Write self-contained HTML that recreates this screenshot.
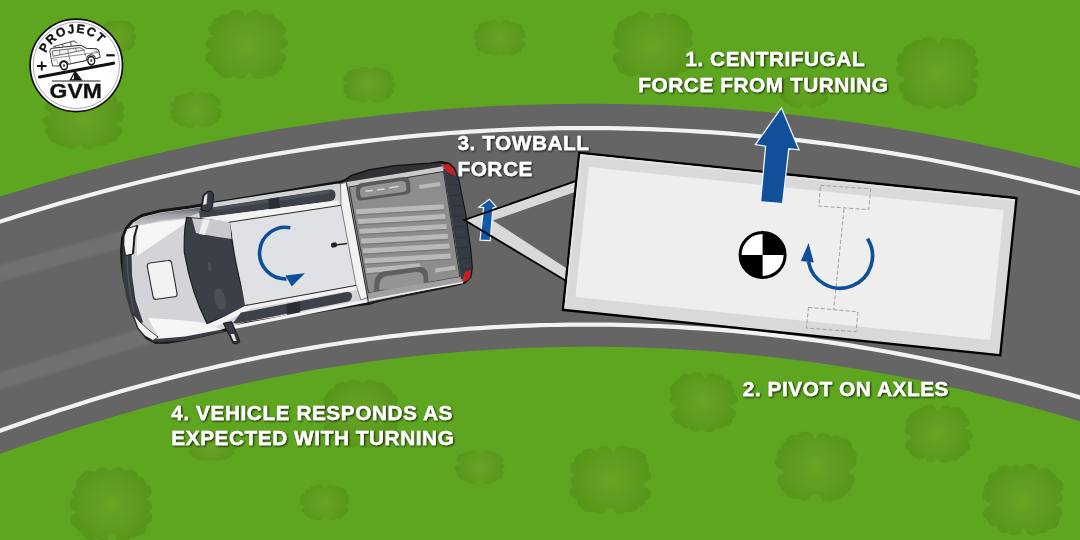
<!DOCTYPE html>
<html><head><meta charset="utf-8"><style>
html,body{margin:0;padding:0;background:#5ea61f;}
#c{position:relative;width:1080px;height:540px;overflow:hidden;}
svg{position:absolute;left:0;top:0;}
.t{font-family:"Liberation Sans",sans-serif;font-weight:bold;font-size:20.8px;letter-spacing:0.55px;fill:#fff;stroke:#fff;stroke-width:0.35px;}
</style></head><body><div id="c">
<svg width="1080" height="540" viewBox="0 0 1080 540">
<defs><radialGradient id="bg0" gradientUnits="userSpaceOnUse" cx="247" cy="45" r="42"><stop offset="0" stop-color="#68a524"/><stop offset="1" stop-color="#57951c"/></radialGradient><radialGradient id="bg1" gradientUnits="userSpaceOnUse" cx="196" cy="110" r="26"><stop offset="0" stop-color="#68a524"/><stop offset="1" stop-color="#57951c"/></radialGradient><radialGradient id="bg2" gradientUnits="userSpaceOnUse" cx="118" cy="36" r="18"><stop offset="0" stop-color="#68a524"/><stop offset="1" stop-color="#57951c"/></radialGradient><radialGradient id="bg3" gradientUnits="userSpaceOnUse" cx="83" cy="118" r="41"><stop offset="0" stop-color="#68a524"/><stop offset="1" stop-color="#57951c"/></radialGradient><radialGradient id="bg4" gradientUnits="userSpaceOnUse" cx="369" cy="85" r="26"><stop offset="0" stop-color="#68a524"/><stop offset="1" stop-color="#57951c"/></radialGradient><radialGradient id="bg5" gradientUnits="userSpaceOnUse" cx="500" cy="38" r="26"><stop offset="0" stop-color="#68a524"/><stop offset="1" stop-color="#57951c"/></radialGradient><radialGradient id="bg6" gradientUnits="userSpaceOnUse" cx="653" cy="46" r="41"><stop offset="0" stop-color="#68a524"/><stop offset="1" stop-color="#57951c"/></radialGradient><radialGradient id="bg7" gradientUnits="userSpaceOnUse" cx="938" cy="73" r="42"><stop offset="0" stop-color="#68a524"/><stop offset="1" stop-color="#57951c"/></radialGradient><radialGradient id="bg8" gradientUnits="userSpaceOnUse" cx="805" cy="91" r="25"><stop offset="0" stop-color="#68a524"/><stop offset="1" stop-color="#57951c"/></radialGradient><radialGradient id="bg9" gradientUnits="userSpaceOnUse" cx="111" cy="505" r="41"><stop offset="0" stop-color="#68a524"/><stop offset="1" stop-color="#57951c"/></radialGradient><radialGradient id="bg10" gradientUnits="userSpaceOnUse" cx="325" cy="503" r="25"><stop offset="0" stop-color="#68a524"/><stop offset="1" stop-color="#57951c"/></radialGradient><radialGradient id="bg11" gradientUnits="userSpaceOnUse" cx="480" cy="467" r="25"><stop offset="0" stop-color="#68a524"/><stop offset="1" stop-color="#57951c"/></radialGradient><radialGradient id="bg12" gradientUnits="userSpaceOnUse" cx="361" cy="414" r="39"><stop offset="0" stop-color="#68a524"/><stop offset="1" stop-color="#57951c"/></radialGradient><radialGradient id="bg13" gradientUnits="userSpaceOnUse" cx="703" cy="402" r="34"><stop offset="0" stop-color="#68a524"/><stop offset="1" stop-color="#57951c"/></radialGradient><radialGradient id="bg14" gradientUnits="userSpaceOnUse" cx="611" cy="480" r="41"><stop offset="0" stop-color="#68a524"/><stop offset="1" stop-color="#57951c"/></radialGradient><radialGradient id="bg15" gradientUnits="userSpaceOnUse" cx="816" cy="467" r="41"><stop offset="0" stop-color="#68a524"/><stop offset="1" stop-color="#57951c"/></radialGradient><radialGradient id="bg16" gradientUnits="userSpaceOnUse" cx="938" cy="434" r="34"><stop offset="0" stop-color="#68a524"/><stop offset="1" stop-color="#57951c"/></radialGradient><radialGradient id="bg17" gradientUnits="userSpaceOnUse" cx="1023" cy="500" r="41"><stop offset="0" stop-color="#68a524"/><stop offset="1" stop-color="#57951c"/></radialGradient><radialGradient id="bg18" gradientUnits="userSpaceOnUse" cx="212" cy="446" r="24"><stop offset="0" stop-color="#68a524"/><stop offset="1" stop-color="#57951c"/></radialGradient>
<filter id="sh" x="-10%" y="-30%" width="120%" height="160%"><feGaussianBlur in="SourceAlpha" stdDeviation="1.3"/><feOffset dx="0.8" dy="1.2" result="b"/><feComponentTransfer><feFuncA type="linear" slope="0.85"/></feComponentTransfer><feMerge><feMergeNode/><feMergeNode in="SourceGraphic"/></feMerge></filter>
<filter id="bb"><feGaussianBlur stdDeviation="0.6"/></filter><filter id="sb" filterUnits="userSpaceOnUse" x="-20" y="0" width="1120" height="540"><feGaussianBlur stdDeviation="1.1"/></filter>
</defs>
<rect width="1080" height="540" fill="#5ea61f"/>
<g filter="url(#bb)"><path d="M242.7,12.0 L241.3,11.0 L239.7,10.3 L238.0,9.9 L236.2,9.8 L232.7,10.3 L231.1,11.0 L229.7,12.0 L228.6,13.2 L227.7,14.6 L225.1,14.2 L222.3,14.6 L219.9,16.0 L218.8,17.2 L215.8,18.2 L213.7,20.0 L212.5,22.3 L212.5,24.7 L210.4,25.8 L209.5,26.8 L208.4,28.9 L208.3,30.1 L208.4,31.3 L209.5,33.5 L211.5,35.2 L213.9,36.0 L213.8,37.0 L211.8,37.1 L208.9,38.1 L206.6,40.0 L205.9,41.2 L205.4,42.5 L205.3,43.8 L205.4,45.1 L205.9,46.4 L206.6,47.6 L208.9,49.4 L210.9,50.2 L209.4,50.9 L208.0,51.9 L206.8,53.1 L205.9,54.4 L205.3,55.9 L205.2,57.5 L205.3,59.0 L205.9,60.5 L206.8,61.9 L208.0,63.1 L209.4,64.1 L211.0,64.8 L212.7,65.2 L212.7,67.7 L213.2,68.9 L214.8,71.0 L216.0,71.8 L218.0,72.5 L219.2,74.7 L220.3,75.8 L221.7,76.8 L223.3,77.5 L225.0,77.9 L228.6,77.9 L230.4,77.5 L232.0,76.8 L233.6,75.5 L235.0,77.2 L237.4,78.6 L238.8,78.9 L241.7,78.9 L244.4,78.0 L245.5,77.2 L247.1,75.2 L247.6,73.0 L251.2,72.9 L251.7,75.0 L253.5,77.2 L256.2,78.7 L257.7,79.1 L259.3,79.2 L262.5,78.7 L265.2,77.2 L266.3,76.0 L269.2,76.5 L270.8,76.4 L273.9,75.3 L276.2,73.4 L277.1,71.9 L279.2,71.1 L281.4,69.3 L282.1,68.1 L282.6,66.8 L282.7,65.5 L282.5,63.9 L284.1,62.9 L285.0,62.0 L286.1,59.8 L286.1,57.4 L285.0,55.2 L283.0,53.5 L280.3,52.6 L280.5,49.1 L282.1,49.0 L284.8,48.0 L286.8,46.3 L288.0,44.0 L288.0,41.6 L286.8,39.3 L285.9,38.4 L283.5,37.0 L280.1,36.5 L282.7,35.6 L283.9,34.8 L285.6,32.7 L286.2,30.3 L285.6,27.8 L283.9,25.7 L282.2,24.7 L281.6,22.4 L280.1,20.4 L277.7,19.1 L276.0,18.7 L275.5,17.4 L274.8,16.2 L272.5,14.4 L271.1,13.8 L269.6,13.4 L266.5,13.4 L264.9,13.8 L262.7,15.0 L261.7,13.2 L259.3,11.2 L256.2,10.1 L252.8,10.1 L249.7,11.2 L248.4,12.1 L247.4,13.2 L246.6,14.4 L246.1,15.8 L245.9,17.0 L245.4,17.0 L244.7,14.5 L243.9,13.2 L242.7,12.0Z" fill="url(#bg0)"/><path d="M194.6,93.1 L192.9,92.3 L190.8,92.0 L188.8,92.3 L187.8,92.6 L186.4,93.6 L185.3,93.4 L183.3,93.4 L180.8,94.3 L179.7,95.5 L177.2,95.7 L176.3,96.1 L174.8,97.1 L174.0,98.4 L173.9,99.1 L174.4,100.7 L171.9,101.6 L170.7,102.9 L170.4,103.6 L170.4,105.1 L171.2,106.4 L172.7,107.5 L175.2,108.1 L175.2,108.2 L173.2,108.5 L171.6,109.3 L170.4,110.5 L170.1,111.1 L170.0,111.8 L170.4,113.2 L171.8,114.5 L170.7,116.1 L170.7,117.6 L171.0,118.3 L172.2,119.6 L173.5,120.3 L173.8,121.0 L174.8,122.0 L176.3,122.7 L177.9,123.0 L178.3,124.1 L178.7,124.7 L180.1,125.6 L182.8,126.2 L184.7,125.9 L185.9,127.1 L186.7,127.6 L188.8,128.2 L191.1,128.2 L193.2,127.6 L194.8,126.5 L195.3,125.8 L195.7,124.4 L197.6,124.4 L198.0,125.6 L199.2,126.8 L201.9,127.8 L203.9,127.8 L206.4,126.9 L209.0,127.0 L211.0,126.4 L212.5,125.4 L213.3,123.8 L216.0,123.2 L217.3,122.3 L218.1,121.1 L218.0,119.7 L219.8,118.9 L220.5,118.3 L221.3,117.0 L221.3,115.6 L221.0,114.9 L220.0,113.8 L221.5,112.5 L221.8,111.8 L221.8,110.5 L221.0,109.2 L219.6,108.2 L216.7,107.6 L216.6,106.2 L218.6,105.6 L219.4,105.1 L220.6,103.9 L221.0,102.4 L220.6,101.0 L220.1,100.3 L218.6,99.3 L218.2,98.0 L217.0,96.8 L215.0,95.9 L213.7,94.4 L211.8,93.5 L209.5,93.2 L206.5,93.8 L205.9,93.3 L204.2,92.5 L201.3,92.3 L198.6,93.3 L197.5,94.4 L197.2,95.6 L196.2,95.6 L195.8,94.3 L194.6,93.1Z" fill="url(#bg1)"/><path d="M117.5,21.2 L116.4,20.6 L115.2,20.4 L113.4,20.9 L112.5,21.7 L112.1,22.4 L110.5,21.3 L109.0,21.0 L107.4,21.3 L106.1,22.0 L105.3,23.2 L105.0,23.9 L103.4,24.7 L102.6,25.8 L102.4,26.4 L101.6,27.0 L100.7,28.1 L100.5,28.8 L100.5,30.2 L101.1,31.4 L102.0,32.3 L100.3,33.6 L99.9,34.2 L99.6,35.6 L99.9,37.0 L100.8,38.1 L102.1,38.9 L103.7,39.2 L103.8,39.6 L102.5,40.1 L101.5,41.0 L100.9,42.7 L101.2,43.9 L102.3,45.1 L102.3,46.2 L102.9,47.4 L104.7,48.8 L106.8,49.0 L107.5,49.9 L108.6,50.5 L109.9,50.8 L111.7,50.3 L113.0,51.6 L114.4,52.1 L115.9,52.1 L117.3,51.6 L118.4,50.7 L119.0,48.8 L119.8,48.8 L120.0,49.6 L120.7,50.6 L122.4,51.3 L124.2,51.2 L125.2,50.6 L125.8,49.9 L127.6,50.3 L129.6,49.8 L130.8,48.5 L132.7,47.6 L133.5,46.5 L133.8,44.8 L134.7,43.7 L134.9,42.5 L134.7,41.4 L133.8,40.3 L134.7,39.9 L135.8,38.9 L136.5,37.6 L136.5,36.9 L136.2,35.5 L135.3,34.3 L134.0,33.5 L132.3,33.2 L132.2,32.2 L133.4,31.8 L134.4,30.9 L135.0,29.2 L134.7,28.0 L133.9,27.0 L133.3,26.5 L133.1,25.6 L132.4,24.7 L131.3,24.0 L129.8,23.8 L129.6,23.0 L128.8,22.0 L127.0,21.1 L125.6,21.1 L124.1,21.8 L123.6,21.2 L122.5,20.6 L120.6,20.4 L119.4,20.8 L118.2,22.1 L117.5,21.2Z" fill="url(#bg2)"/><path d="M77.3,88.9 L74.4,87.4 L72.7,87.0 L69.1,87.0 L67.4,87.4 L64.4,88.9 L63.0,90.4 L59.9,90.4 L57.1,91.3 L54.9,92.9 L54.2,94.0 L53.7,95.7 L51.9,96.1 L50.6,96.6 L48.6,98.1 L47.9,99.1 L47.3,101.2 L47.6,102.6 L46.4,103.3 L44.9,105.0 L44.3,107.1 L44.5,108.1 L44.9,109.1 L46.4,110.9 L48.7,112.0 L50.4,112.4 L50.3,115.2 L47.4,115.6 L45.0,116.8 L43.4,118.6 L42.9,120.8 L43.4,122.9 L45.0,124.7 L47.4,125.9 L49.0,126.3 L47.2,127.2 L46.3,128.1 L45.3,130.0 L45.1,131.0 L45.3,132.1 L46.3,134.0 L47.2,134.9 L48.6,135.7 L48.4,137.0 L48.6,138.3 L49.1,139.5 L49.9,140.6 L52.2,142.4 L53.7,143.0 L56.5,143.4 L57.8,144.8 L60.4,146.1 L61.9,146.4 L64.5,146.5 L66.5,147.9 L68.0,148.6 L71.4,149.1 L74.9,148.6 L77.8,147.1 L78.9,146.1 L79.7,144.9 L80.3,142.8 L80.9,142.8 L81.1,144.0 L81.6,145.3 L82.4,146.4 L83.5,147.4 L86.4,148.9 L89.8,149.4 L93.2,148.9 L94.7,148.3 L97.2,146.4 L98.1,145.0 L100.9,145.9 L102.3,146.0 L105.0,145.6 L107.3,144.4 L108.2,143.6 L108.9,142.5 L111.7,142.4 L113.3,142.1 L116.1,140.7 L117.9,138.6 L118.5,136.6 L120.9,134.7 L121.7,133.6 L122.2,132.4 L122.4,131.1 L122.2,129.8 L121.7,128.6 L120.9,127.5 L118.5,125.6 L115.5,124.7 L115.7,122.7 L117.4,122.6 L120.4,121.7 L122.7,119.9 L123.5,118.9 L124.0,117.7 L124.2,116.4 L124.0,115.2 L123.5,114.0 L122.0,112.3 L123.5,110.5 L124.0,109.2 L124.2,107.8 L124.0,106.4 L123.5,105.1 L122.6,103.8 L121.4,102.7 L120.0,101.9 L116.8,100.8 L117.0,99.6 L116.9,98.5 L115.8,96.5 L114.9,95.7 L112.5,94.5 L109.7,94.1 L108.5,92.0 L107.5,91.1 L105.0,89.8 L102.0,89.4 L100.5,89.5 L98.6,89.9 L97.2,88.9 L95.9,88.4 L94.5,88.1 L91.6,88.1 L89.0,88.9 L87.9,89.6 L86.3,91.4 L85.8,93.2 L79.9,93.2 L79.3,91.1 L78.5,89.9 L77.3,88.9Z" fill="url(#bg3)"/><path d="M368.5,67.8 L367.6,67.3 L365.5,66.6 L363.1,66.6 L362.0,66.9 L360.1,67.8 L359.4,68.4 L358.6,69.5 L356.8,68.9 L354.1,69.1 L352.5,69.8 L351.8,70.6 L348.7,71.2 L347.9,71.7 L346.7,73.0 L346.2,74.5 L346.5,75.5 L344.9,76.3 L343.7,77.5 L343.3,78.3 L343.3,79.8 L343.7,80.5 L344.9,81.8 L346.7,82.6 L348.2,82.9 L345.4,83.5 L344.7,84.0 L343.6,85.1 L343.3,85.7 L343.3,87.1 L344.4,88.6 L343.7,89.4 L343.3,90.9 L343.7,92.4 L344.3,93.0 L346.1,94.2 L345.8,95.5 L345.9,96.3 L346.3,97.0 L347.6,98.4 L349.5,99.3 L352.4,99.5 L353.7,100.5 L355.3,101.0 L357.1,101.0 L358.7,100.5 L360.4,101.9 L362.9,102.5 L364.7,102.2 L366.2,101.5 L367.2,100.5 L367.6,99.4 L370.8,99.4 L371.2,100.6 L372.5,102.0 L374.4,102.9 L376.7,103.2 L378.9,102.9 L380.0,102.5 L381.5,101.5 L383.4,101.0 L384.7,100.1 L385.5,98.5 L388.3,98.4 L389.9,97.6 L390.9,96.6 L391.3,95.3 L390.7,93.8 L391.8,93.4 L393.0,92.5 L393.7,91.4 L393.8,90.8 L393.7,90.2 L393.0,89.0 L391.4,88.0 L392.7,87.6 L394.1,86.6 L394.9,85.4 L395.0,84.7 L394.6,83.3 L393.5,82.1 L391.8,81.3 L389.6,81.1 L391.3,80.6 L392.5,79.7 L393.2,78.6 L393.2,78.0 L392.9,76.8 L392.5,76.3 L390.7,75.2 L391.0,74.1 L390.9,73.4 L390.1,72.1 L388.6,71.1 L387.5,70.7 L386.4,69.6 L385.6,69.1 L383.5,68.5 L380.9,68.6 L379.4,67.6 L377.4,67.0 L375.1,67.0 L373.1,67.6 L371.5,68.7 L371.0,69.4 L370.6,70.6 L370.3,70.6 L369.8,69.1 L368.5,67.8Z" fill="url(#bg4)"/><path d="M496.9,21.1 L496.0,20.6 L494.0,20.0 L490.7,20.2 L488.7,21.3 L487.0,21.3 L485.1,21.8 L483.5,23.0 L481.4,23.3 L480.4,23.7 L479.5,24.2 L478.3,25.4 L477.9,26.9 L478.4,28.6 L475.9,29.5 L474.8,30.8 L474.3,32.2 L474.4,33.0 L475.2,34.2 L474.0,35.5 L473.5,37.0 L474.0,38.5 L474.5,39.2 L476.1,40.2 L477.6,40.7 L475.5,42.0 L475.1,42.6 L474.7,44.0 L475.1,45.3 L475.5,45.9 L477.1,47.0 L476.8,48.3 L477.2,49.9 L478.5,51.2 L479.4,51.7 L481.5,52.3 L483.6,52.3 L484.8,53.6 L486.3,54.3 L489.0,54.5 L491.0,53.8 L492.5,55.1 L495.2,55.6 L497.8,55.1 L499.5,53.7 L500.5,54.8 L501.3,55.2 L503.1,55.7 L506.0,55.5 L507.9,54.6 L510.4,55.4 L512.7,55.4 L514.9,54.8 L516.5,53.6 L517.2,52.6 L518.4,52.4 L520.0,51.6 L520.7,51.1 L521.4,49.8 L521.5,49.1 L521.2,47.9 L523.1,47.3 L524.7,46.3 L525.2,45.6 L525.6,44.2 L525.2,42.7 L524.0,41.5 L522.2,40.7 L520.7,40.4 L520.8,39.1 L522.6,38.8 L524.2,38.1 L525.2,37.0 L525.6,35.7 L525.2,34.4 L524.2,33.3 L524.8,31.8 L524.4,30.5 L523.4,29.5 L522.4,29.0 L522.9,27.4 L522.5,25.8 L521.2,24.5 L520.3,24.0 L517.8,23.3 L515.7,22.2 L512.8,22.0 L510.7,22.7 L510.0,21.5 L509.3,20.9 L508.4,20.4 L506.4,19.9 L504.2,19.9 L502.1,20.4 L500.6,21.5 L500.1,22.2 L499.6,23.6 L498.5,23.6 L498.1,22.4 L496.9,21.1Z" fill="url(#bg5)"/><path d="M648.0,13.9 L646.6,13.0 L645.0,12.3 L643.3,11.8 L639.7,11.8 L637.9,12.3 L636.4,13.0 L635.0,13.9 L633.6,15.4 L630.5,15.4 L627.6,16.3 L625.4,18.2 L624.4,20.0 L622.0,20.4 L620.6,21.1 L618.2,23.0 L617.5,24.2 L617.0,25.5 L616.8,26.9 L617.2,29.0 L615.9,29.9 L614.9,30.8 L613.8,33.1 L613.8,35.6 L614.2,36.8 L615.2,38.2 L614.0,39.3 L613.3,40.3 L612.7,42.7 L613.3,45.1 L614.9,47.1 L617.4,48.4 L620.3,48.9 L620.4,51.5 L618.2,51.9 L616.6,52.6 L615.3,53.6 L614.1,54.7 L613.3,56.0 L612.8,57.4 L612.6,58.9 L612.8,60.4 L613.3,61.8 L614.1,63.1 L615.3,64.2 L616.6,65.2 L616.7,67.3 L617.3,68.7 L618.1,70.0 L619.3,71.2 L620.7,72.2 L623.8,73.3 L625.2,74.8 L627.9,76.3 L631.2,76.8 L634.5,76.3 L637.3,74.8 L639.0,72.6 L639.1,74.2 L640.2,76.3 L642.1,77.9 L644.6,78.8 L647.4,78.8 L649.9,77.9 L651.8,76.3 L652.5,75.3 L653.0,73.2 L655.0,73.2 L655.6,75.5 L657.4,77.7 L658.7,78.6 L661.7,79.6 L664.9,79.6 L666.5,79.2 L668.6,78.1 L671.0,78.4 L674.3,77.8 L675.8,77.2 L678.2,75.2 L678.9,74.0 L679.5,72.2 L682.8,72.2 L684.4,71.7 L686.0,71.1 L687.4,70.1 L688.5,69.0 L689.3,67.7 L689.9,65.6 L691.2,64.3 L692.1,63.0 L692.6,61.6 L692.8,60.2 L692.6,58.7 L692.1,57.3 L691.2,56.1 L690.1,54.9 L688.8,54.0 L685.5,52.9 L685.8,48.5 L687.2,48.3 L689.8,47.4 L691.9,45.8 L693.0,43.6 L693.1,42.4 L692.5,40.0 L691.9,39.0 L690.6,37.8 L692.0,36.0 L692.5,34.7 L692.7,33.4 L692.5,32.0 L692.0,30.7 L690.2,28.5 L688.9,27.6 L689.1,26.0 L689.0,24.5 L688.4,23.0 L687.6,21.7 L686.4,20.5 L685.0,19.6 L683.4,18.9 L681.7,18.4 L679.8,16.2 L678.4,15.3 L676.8,14.5 L673.3,14.0 L671.5,14.1 L669.8,14.5 L668.2,15.3 L666.0,13.4 L664.6,12.8 L661.5,12.3 L659.9,12.4 L657.0,13.4 L655.8,14.3 L654.0,16.5 L653.4,18.8 L650.6,18.8 L650.0,16.4 L649.1,15.1 L648.0,13.9Z" fill="url(#bg6)"/><path d="M934.7,39.1 L933.4,38.2 L931.9,37.5 L928.5,36.9 L925.1,37.5 L923.5,38.2 L921.2,40.2 L918.0,39.6 L914.8,40.2 L912.0,41.7 L910.3,43.9 L908.2,44.3 L905.5,45.9 L904.5,46.9 L903.7,48.2 L903.3,49.5 L903.2,52.0 L900.9,52.9 L899.5,53.9 L898.4,55.0 L897.6,56.4 L897.1,57.8 L896.9,59.4 L897.1,60.9 L897.6,62.3 L899.1,64.4 L897.4,65.9 L896.6,67.2 L896.2,68.5 L896.0,69.9 L896.2,71.3 L896.6,72.7 L897.4,73.9 L899.7,75.9 L902.8,77.0 L904.5,77.1 L904.7,80.8 L901.9,81.8 L899.7,83.7 L899.0,84.8 L898.4,87.4 L899.0,90.0 L900.7,92.2 L903.0,93.5 L902.8,95.1 L902.9,96.5 L903.4,97.9 L904.2,99.2 L905.3,100.3 L906.6,101.2 L909.0,102.1 L909.7,103.2 L910.9,104.4 L912.2,105.4 L913.8,106.1 L915.5,106.6 L917.3,106.7 L919.1,106.6 L920.8,106.1 L922.3,105.4 L923.5,106.7 L926.3,108.3 L927.8,108.7 L931.1,108.7 L934.2,107.6 L935.5,106.7 L936.5,105.6 L937.3,104.3 L937.8,103.0 L938.3,104.4 L939.1,105.7 L940.1,106.8 L942.9,108.4 L946.2,108.9 L949.4,108.4 L950.9,107.7 L952.2,106.8 L953.3,105.7 L954.3,103.7 L956.6,105.0 L958.1,105.4 L961.4,105.4 L963.0,105.0 L965.7,103.4 L966.7,102.4 L967.8,100.3 L970.5,99.8 L972.1,99.0 L973.5,98.1 L974.6,96.9 L975.5,95.5 L976.0,94.0 L976.2,92.5 L975.8,90.5 L977.2,88.6 L977.7,87.4 L977.7,84.9 L976.5,82.5 L974.4,80.7 L973.1,80.1 L971.4,79.7 L973.0,79.6 L975.6,78.7 L977.6,77.0 L978.6,74.7 L978.6,72.3 L977.6,70.1 L975.6,68.4 L973.7,67.7 L976.2,66.3 L977.2,65.3 L977.9,64.1 L978.5,61.6 L977.9,59.0 L977.2,57.8 L976.2,56.8 L974.8,55.9 L975.5,54.1 L975.6,52.6 L975.5,51.0 L974.9,49.5 L974.1,48.1 L972.9,46.9 L971.5,45.9 L969.9,45.2 L967.5,44.7 L966.3,42.4 L965.1,41.2 L963.7,40.2 L962.0,39.4 L960.2,39.0 L958.4,38.8 L956.5,39.0 L953.8,39.9 L952.0,38.4 L950.6,37.8 L949.0,37.4 L945.7,37.4 L942.6,38.4 L941.3,39.3 L940.3,40.4 L939.5,41.7 L938.9,44.2 L937.3,44.2 L937.2,43.0 L936.7,41.6 L935.8,40.3 L934.7,39.1Z" fill="url(#bg7)"/><path d="M802.7,75.3 L800.3,74.4 L798.4,74.4 L796.0,75.3 L794.9,76.3 L793.0,75.7 L791.1,75.7 L786.2,77.3 L784.7,78.4 L783.9,79.7 L783.8,80.5 L784.1,81.7 L783.0,82.1 L781.6,83.0 L780.9,84.2 L780.8,84.9 L780.9,85.5 L781.6,86.8 L783.0,87.7 L785.1,88.2 L785.1,88.6 L783.9,88.7 L781.9,89.3 L780.3,90.3 L779.4,91.7 L779.4,93.2 L780.5,94.8 L780.0,95.8 L780.0,97.3 L780.9,98.7 L782.4,99.8 L783.8,100.2 L783.8,101.3 L784.1,101.9 L785.1,102.8 L786.5,103.5 L788.4,103.7 L788.7,104.9 L789.9,106.1 L791.6,106.9 L794.4,107.1 L797.2,108.1 L799.3,108.1 L801.4,107.5 L802.9,106.5 L803.4,105.8 L803.8,104.6 L807.0,104.6 L807.4,105.7 L807.9,106.3 L809.3,107.3 L811.2,107.8 L813.3,107.8 L815.1,107.3 L816.9,105.9 L819.1,106.0 L820.7,105.5 L822.0,104.6 L822.6,103.7 L824.8,103.2 L826.2,102.2 L826.9,101.0 L827.0,100.1 L828.0,99.1 L828.3,98.0 L828.2,97.4 L827.5,96.3 L825.8,95.3 L827.2,95.0 L829.0,94.2 L830.2,93.0 L830.7,91.5 L830.2,90.0 L829.0,88.8 L827.2,87.9 L824.8,87.6 L824.7,86.9 L826.3,86.4 L827.7,85.6 L828.1,85.0 L828.5,83.8 L828.1,82.5 L826.5,81.2 L826.4,80.5 L825.7,79.3 L824.3,78.4 L821.7,77.8 L820.7,76.9 L818.6,76.1 L816.1,76.2 L814.2,77.2 L813.9,76.2 L812.9,75.2 L810.5,74.3 L808.6,74.3 L806.9,74.8 L805.6,75.7 L805.2,76.2 L804.8,77.4 L804.1,77.4 L803.7,76.3 L802.7,75.3Z" fill="url(#bg8)"/><path d="M108.8,469.9 L107.4,468.9 L105.9,468.2 L104.2,467.7 L102.4,467.6 L100.7,467.7 L99.0,468.2 L97.5,468.9 L96.1,469.9 L94.5,472.1 L92.9,471.4 L91.2,470.9 L89.4,470.7 L87.6,470.9 L85.8,471.4 L84.2,472.1 L82.8,473.2 L81.7,474.4 L80.6,476.5 L78.7,477.8 L77.7,478.9 L77.0,480.1 L76.5,481.5 L76.4,482.9 L76.5,484.3 L77.7,486.8 L75.2,487.8 L74.1,488.6 L72.6,490.6 L72.2,491.8 L72.2,494.3 L72.6,495.5 L73.7,497.1 L72.1,498.2 L71.0,499.4 L70.2,500.8 L69.7,502.3 L69.5,503.8 L69.7,505.3 L70.2,506.8 L71.0,508.2 L72.1,509.3 L73.4,510.3 L74.9,511.0 L76.5,511.5 L78.4,511.6 L78.4,512.0 L76.6,512.5 L75.0,513.3 L73.6,514.3 L72.4,515.6 L71.6,517.0 L71.1,518.6 L70.9,520.2 L71.1,521.8 L71.6,523.4 L72.4,524.9 L73.6,526.1 L75.8,527.6 L76.8,529.4 L77.7,530.5 L80.2,532.0 L82.2,532.4 L82.8,535.0 L83.7,536.5 L84.8,537.7 L86.2,538.8 L87.8,539.5 L89.5,540.0 L91.3,540.2 L93.1,540.0 L94.8,539.5 L97.2,538.2 L99.0,539.9 L100.3,540.5 L103.1,541.0 L104.5,540.9 L107.1,539.9 L108.2,539.1 L109.8,536.9 L110.3,534.6 L114.2,534.6 L114.8,537.0 L115.6,538.4 L116.8,539.6 L118.1,540.6 L119.6,541.4 L121.3,541.8 L123.0,542.0 L124.8,541.8 L126.4,541.4 L128.0,540.6 L129.3,539.6 L130.9,537.7 L132.5,537.9 L135.4,537.3 L137.9,535.8 L140.9,535.2 L142.5,534.4 L144.0,533.4 L145.1,532.1 L146.0,530.6 L146.5,529.1 L146.7,527.4 L146.2,524.7 L148.1,523.8 L149.5,522.8 L150.7,521.5 L151.6,520.0 L152.1,518.4 L152.3,516.8 L152.1,515.1 L151.6,513.5 L150.1,511.5 L151.4,509.6 L151.9,508.2 L152.0,506.8 L151.9,505.4 L151.4,504.0 L150.6,502.7 L149.6,501.5 L146.9,499.9 L144.9,499.5 L147.6,498.4 L149.0,497.4 L150.1,496.1 L151.0,494.7 L151.5,493.1 L151.7,491.5 L151.5,489.8 L151.0,488.3 L150.1,486.8 L149.0,485.6 L147.6,484.5 L145.8,483.7 L145.6,481.9 L145.2,480.6 L143.5,478.3 L141.0,476.8 L138.2,476.2 L137.6,474.4 L136.8,473.0 L135.6,471.8 L134.3,470.8 L132.7,470.0 L131.0,469.5 L129.2,469.4 L127.4,469.5 L124.8,470.5 L122.7,468.7 L121.2,468.0 L119.4,467.5 L117.7,467.3 L115.9,467.5 L114.2,468.0 L112.6,468.7 L111.3,469.7 L109.9,471.3 L108.8,469.9Z" fill="url(#bg9)"/><path d="M323.1,486.0 L322.3,485.5 L320.3,484.9 L318.2,484.9 L317.1,485.1 L314.9,486.4 L312.6,486.3 L310.9,486.8 L309.5,487.8 L308.9,488.7 L306.7,489.3 L305.5,490.1 L305.1,490.7 L304.8,491.9 L305.3,493.4 L302.9,494.0 L301.5,495.0 L301.1,495.6 L300.7,497.0 L300.8,497.7 L301.5,499.0 L300.8,499.6 L300.0,500.9 L299.9,501.6 L300.3,503.0 L301.4,504.2 L303.1,505.0 L305.0,505.3 L305.2,507.2 L303.1,508.0 L302.1,509.0 L301.8,510.2 L302.1,511.4 L303.1,512.4 L304.5,513.1 L304.5,514.3 L305.2,515.4 L306.3,516.3 L308.4,516.8 L309.6,518.3 L311.9,519.2 L314.4,519.0 L315.7,520.0 L317.4,520.5 L319.3,520.5 L320.9,520.0 L322.2,519.0 L322.7,518.5 L323.0,517.4 L326.7,517.4 L327.1,518.5 L328.1,519.6 L329.6,520.3 L331.4,520.6 L334.0,520.0 L335.3,519.1 L335.8,518.3 L338.2,518.9 L340.8,518.3 L342.0,517.4 L342.7,516.1 L344.6,515.6 L345.9,514.7 L346.5,513.6 L346.6,512.5 L347.9,511.6 L348.6,510.4 L348.6,509.1 L347.9,507.9 L346.7,507.0 L344.8,506.5 L345.0,504.8 L347.5,504.3 L348.7,503.4 L349.3,502.3 L349.3,501.0 L349.1,500.4 L348.1,499.3 L349.1,498.2 L349.4,497.5 L349.5,496.8 L349.1,495.3 L348.0,494.1 L346.5,493.4 L346.8,492.3 L346.7,491.5 L345.9,490.1 L344.3,489.0 L342.9,488.5 L341.7,487.3 L339.8,486.4 L337.6,486.1 L336.5,486.1 L334.5,486.7 L333.9,486.2 L332.2,485.4 L329.3,485.2 L326.8,486.2 L325.7,487.3 L325.3,488.6 L324.7,488.6 L324.3,487.2 L323.1,486.0Z" fill="url(#bg10)"/><path d="M475.9,451.4 L474.4,450.7 L472.5,450.4 L470.7,450.7 L468.7,451.8 L467.4,451.6 L465.5,451.9 L464.0,452.6 L463.0,453.6 L459.9,454.2 L458.3,455.3 L457.8,456.0 L457.4,457.6 L456.3,459.1 L456.3,460.5 L456.6,461.1 L457.7,462.2 L460.2,463.1 L460.1,464.4 L457.8,464.7 L456.0,465.6 L454.8,466.8 L454.3,468.3 L454.4,469.1 L455.3,470.5 L457.5,471.8 L456.6,472.7 L456.3,473.3 L456.3,474.6 L457.1,475.8 L458.9,476.9 L459.0,477.8 L459.7,479.1 L461.9,480.3 L464.0,480.5 L464.5,481.2 L465.8,482.1 L467.4,482.5 L468.9,482.5 L470.0,483.3 L471.9,483.8 L474.0,483.8 L475.9,483.3 L477.3,482.3 L477.8,481.7 L478.2,480.6 L481.7,480.6 L482.1,481.8 L483.3,483.0 L485.1,483.8 L487.2,484.1 L490.3,483.4 L492.0,482.1 L493.6,482.1 L495.3,481.6 L496.5,480.8 L497.0,480.0 L499.2,479.7 L501.0,478.9 L501.6,478.3 L502.1,477.7 L502.5,476.3 L502.1,474.8 L503.6,473.6 L503.9,472.4 L503.8,471.8 L503.1,470.7 L501.9,469.9 L500.7,469.5 L501.8,469.3 L503.4,468.6 L504.4,467.6 L504.8,466.3 L504.4,465.1 L503.4,464.0 L501.8,463.3 L500.0,463.1 L502.2,462.2 L503.3,461.2 L503.6,459.9 L503.3,458.6 L502.8,458.1 L501.5,457.2 L500.3,456.8 L500.0,455.2 L499.0,454.2 L497.5,453.5 L496.1,453.3 L495.0,452.1 L493.4,451.4 L491.4,451.1 L489.5,451.4 L487.5,450.4 L484.7,450.2 L482.1,451.1 L481.0,452.2 L480.6,453.4 L477.3,453.4 L477.0,452.5 L475.9,451.4Z" fill="url(#bg11)"/><path d="M360.0,381.7 L357.2,380.1 L353.9,379.5 L352.2,379.6 L349.2,380.7 L347.9,381.7 L346.6,383.1 L343.7,382.1 L342.0,382.0 L338.7,382.5 L335.9,384.2 L334.9,385.3 L334.1,386.6 L333.5,388.4 L331.3,388.8 L330.0,389.5 L327.8,391.4 L327.1,392.6 L326.6,394.4 L324.4,396.3 L323.6,397.6 L323.1,399.0 L322.9,400.5 L323.1,401.9 L323.6,403.3 L324.6,404.9 L323.1,406.3 L322.4,407.5 L321.9,408.9 L321.7,410.2 L321.9,411.6 L322.4,412.9 L324.1,415.2 L326.7,416.8 L329.9,417.3 L330.1,421.0 L327.0,422.2 L325.7,423.1 L324.6,424.2 L323.9,425.5 L323.4,426.9 L323.2,428.4 L323.4,429.8 L323.9,431.2 L324.6,432.5 L326.7,434.4 L327.2,435.9 L327.9,437.2 L330.1,439.1 L331.6,439.8 L333.9,440.2 L335.3,442.0 L336.4,442.8 L338.9,443.7 L340.2,443.8 L342.9,443.3 L344.1,442.8 L345.4,441.7 L345.9,443.4 L346.6,444.5 L347.5,445.5 L349.9,446.9 L352.7,447.4 L355.5,446.9 L356.8,446.3 L358.9,444.5 L359.5,443.4 L360.0,441.7 L360.6,443.9 L361.4,445.2 L362.5,446.4 L363.8,447.3 L365.3,448.0 L366.9,448.4 L368.6,448.6 L372.0,448.0 L373.5,447.3 L375.7,445.4 L377.5,445.9 L379.1,446.1 L382.2,445.5 L384.8,444.0 L385.8,442.9 L386.9,440.9 L389.6,440.4 L390.9,439.8 L393.1,437.9 L394.3,435.4 L394.4,434.1 L393.9,431.6 L396.1,430.3 L397.0,429.3 L398.1,427.1 L398.1,424.6 L397.0,422.4 L395.1,420.6 L393.8,420.1 L392.0,419.7 L392.2,415.6 L394.7,415.2 L396.9,413.9 L398.3,412.0 L398.7,410.9 L398.7,408.7 L398.3,407.6 L396.9,405.7 L395.4,404.7 L396.6,403.6 L397.3,402.4 L397.8,400.0 L397.7,398.7 L396.6,396.3 L395.6,395.3 L394.5,394.5 L392.8,393.8 L392.7,392.3 L391.7,390.2 L390.8,389.3 L388.7,388.1 L387.6,385.8 L386.5,384.7 L383.9,383.1 L380.7,382.6 L377.7,383.1 L376.6,381.8 L375.3,380.8 L373.8,380.1 L370.4,379.5 L367.1,380.1 L365.6,380.8 L364.2,381.8 L363.2,382.9 L362.1,384.9 L361.0,382.8 L360.0,381.7Z" fill="url(#bg12)"/><path d="M701.6,373.8 L699.3,372.4 L696.6,371.9 L693.9,372.4 L692.7,373.0 L691.6,373.8 L690.5,375.2 L687.8,374.2 L686.4,374.0 L683.6,374.5 L681.3,375.9 L680.4,376.9 L679.4,378.8 L678.0,379.2 L675.9,380.4 L674.4,382.3 L674.0,383.8 L671.8,385.2 L670.8,386.2 L669.6,388.7 L669.6,391.4 L670.8,393.8 L672.3,395.3 L670.7,396.7 L670.1,397.6 L669.6,399.7 L669.7,400.8 L670.7,402.8 L672.4,404.3 L674.6,405.1 L675.9,405.2 L676.1,409.1 L674.0,409.9 L672.2,411.5 L671.3,413.5 L671.3,415.7 L672.2,417.7 L673.7,419.1 L674.2,421.1 L675.6,422.9 L677.6,424.1 L680.1,424.5 L681.0,426.3 L681.7,427.1 L683.6,428.2 L685.9,428.6 L687.1,428.5 L688.8,427.9 L689.5,429.1 L691.4,430.8 L693.9,431.7 L696.5,431.7 L699.0,430.8 L700.1,430.0 L701.5,428.1 L702.0,426.5 L702.5,428.3 L703.1,429.4 L705.2,431.2 L707.8,432.2 L710.6,432.2 L713.3,431.2 L714.4,430.4 L715.3,429.4 L716.2,427.7 L718.5,428.6 L720.7,428.6 L721.8,428.4 L723.7,427.3 L724.7,426.1 L726.6,426.0 L728.0,425.6 L729.2,425.1 L731.2,423.3 L732.2,421.0 L732.3,418.8 L733.9,417.8 L734.8,416.8 L735.5,415.7 L736.0,413.4 L735.5,411.0 L733.9,409.0 L731.7,407.6 L730.0,407.2 L730.1,405.3 L733.0,404.8 L735.5,403.3 L737.1,401.2 L737.6,398.7 L737.5,397.4 L736.4,395.0 L734.4,393.2 L734.8,392.1 L734.8,390.1 L733.9,388.2 L732.1,386.7 L732.4,385.1 L732.3,384.0 L731.3,382.0 L729.6,380.4 L728.4,379.9 L726.0,379.4 L724.7,379.6 L724.2,377.7 L723.6,376.8 L721.9,375.2 L719.6,374.4 L718.4,374.3 L715.8,374.8 L713.8,373.5 L712.7,373.2 L710.3,373.2 L708.2,374.0 L707.3,374.6 L706.0,376.3 L705.6,378.0 L703.6,378.0 L703.1,375.8 L701.6,373.8Z" fill="url(#bg13)"/><path d="M609.7,447.7 L608.6,446.9 L606.0,446.0 L604.6,445.9 L601.8,446.3 L600.5,446.9 L598.5,448.6 L597.4,450.9 L597.4,452.9 L596.5,451.4 L595.5,450.4 L592.8,448.8 L589.6,448.3 L586.5,448.8 L583.8,450.4 L582.8,451.4 L581.8,453.4 L579.9,453.8 L578.5,454.4 L576.2,456.4 L575.4,457.7 L574.9,459.0 L574.9,461.3 L572.7,462.6 L571.5,463.8 L570.7,465.2 L570.2,466.7 L570.0,468.2 L570.2,469.8 L570.7,471.2 L571.5,472.6 L572.7,473.8 L574.8,475.1 L572.8,476.3 L571.9,477.3 L570.7,479.6 L570.6,480.9 L571.2,483.4 L571.9,484.5 L573.1,485.7 L571.5,487.2 L570.6,488.6 L570.1,490.1 L569.9,491.7 L570.1,493.2 L570.6,494.7 L571.5,496.1 L572.6,497.3 L574.0,498.3 L575.7,499.0 L577.6,499.5 L577.1,501.7 L577.3,503.1 L577.7,504.3 L578.5,505.5 L580.6,507.4 L581.5,508.8 L582.6,510.0 L584.0,511.0 L585.6,511.7 L587.4,512.2 L589.2,512.3 L591.0,512.2 L593.5,511.4 L595.2,512.7 L596.5,513.3 L597.9,513.7 L600.8,513.7 L602.2,513.3 L604.6,511.9 L606.2,509.9 L606.7,507.9 L613.4,508.0 L613.9,510.0 L615.5,512.1 L616.6,512.8 L619.2,513.8 L622.0,513.8 L623.4,513.4 L624.6,512.8 L626.6,511.1 L629.3,512.1 L630.9,512.2 L634.0,511.7 L636.7,510.2 L637.7,509.1 L638.6,507.4 L640.6,507.0 L643.1,505.5 L644.7,503.4 L645.2,502.2 L645.3,500.6 L647.0,499.9 L648.3,498.9 L649.4,497.8 L650.2,496.5 L650.6,495.1 L650.8,493.7 L650.6,492.3 L650.2,490.9 L649.4,489.6 L648.3,488.5 L647.0,487.5 L645.5,486.9 L643.6,486.4 L643.8,482.3 L646.7,481.8 L649.1,480.4 L650.8,478.3 L651.4,475.8 L650.8,473.3 L650.1,472.2 L648.0,470.4 L648.9,469.2 L649.3,468.1 L649.3,465.8 L648.2,463.6 L647.3,462.7 L645.9,461.8 L646.4,460.4 L646.6,458.9 L646.4,457.3 L645.9,455.9 L645.0,454.5 L643.9,453.3 L642.5,452.3 L639.7,451.3 L638.6,450.2 L637.3,449.2 L634.2,448.1 L632.5,448.0 L630.8,448.1 L629.1,448.6 L626.8,446.7 L623.9,445.6 L620.7,445.6 L617.7,446.7 L615.4,448.6 L614.7,449.8 L614.1,452.0 L611.9,452.0 L611.3,449.7 L609.7,447.7Z" fill="url(#bg14)"/><path d="M811.9,433.8 L810.5,432.9 L808.9,432.1 L807.1,431.7 L805.3,431.5 L803.5,431.7 L801.8,432.1 L800.2,432.9 L798.8,433.8 L797.5,435.2 L794.5,434.7 L791.0,435.3 L789.5,436.0 L788.1,437.0 L787.0,438.2 L786.1,439.5 L785.6,441.7 L783.3,442.9 L782.4,443.9 L781.4,446.0 L781.3,448.3 L778.8,449.7 L777.0,451.9 L776.6,453.2 L776.4,454.6 L776.6,455.9 L777.2,457.4 L775.5,459.7 L775.0,461.0 L774.9,462.4 L775.0,463.8 L775.5,465.2 L776.3,466.4 L778.6,468.4 L780.1,469.0 L783.2,469.6 L783.5,473.9 L781.8,474.3 L780.4,474.9 L778.2,476.8 L777.5,477.9 L777.0,479.2 L776.9,480.5 L777.0,481.8 L777.5,483.1 L778.2,484.3 L780.2,486.1 L780.4,487.5 L780.8,488.8 L782.5,490.9 L783.6,491.7 L785.8,492.5 L786.3,494.4 L787.1,495.6 L788.2,496.8 L789.5,497.7 L792.7,498.8 L796.1,498.8 L798.6,498.0 L800.6,499.6 L801.9,500.2 L804.6,500.7 L806.1,500.6 L807.4,500.2 L809.8,498.9 L811.3,496.9 L811.8,494.9 L819.5,495.0 L820.1,497.2 L820.9,498.5 L822.0,499.7 L823.3,500.6 L826.5,501.7 L830.0,501.7 L831.6,501.3 L833.1,500.6 L834.7,499.5 L836.7,499.7 L840.2,499.1 L841.7,498.4 L843.1,497.4 L844.2,496.2 L845.1,494.9 L845.6,492.9 L848.4,491.9 L850.5,490.1 L851.7,487.7 L851.7,485.3 L853.9,483.5 L855.0,481.1 L855.0,478.5 L853.9,476.2 L851.7,474.3 L850.4,473.7 L848.6,473.3 L848.8,469.4 L851.9,468.9 L853.3,468.2 L855.5,466.3 L856.3,465.1 L856.7,463.8 L856.9,462.4 L856.7,461.1 L855.8,459.0 L856.6,457.1 L856.8,455.6 L856.6,454.1 L856.1,452.7 L855.3,451.4 L854.2,450.2 L851.6,448.7 L852.1,446.2 L851.9,444.7 L851.4,443.2 L850.5,441.8 L849.4,440.6 L848.0,439.6 L846.3,438.9 L844.6,438.4 L842.3,438.3 L840.2,436.5 L837.5,435.5 L834.6,435.5 L833.2,435.9 L831.0,437.1 L830.1,435.6 L828.0,433.8 L825.3,432.8 L823.8,432.7 L820.9,433.2 L819.6,433.8 L817.5,435.6 L816.8,436.7 L816.2,439.0 L814.6,439.0 L813.9,436.4 L813.0,435.0 L811.9,433.8Z" fill="url(#bg15)"/><path d="M934.2,406.6 L933.0,405.8 L930.3,404.8 L927.3,404.8 L925.9,405.2 L923.4,406.6 L921.9,408.5 L920.4,408.3 L918.0,408.7 L916.0,409.9 L914.8,411.4 L913.1,411.8 L912.0,412.3 L910.2,413.8 L909.2,415.9 L909.2,417.9 L907.6,418.8 L906.8,419.7 L905.9,421.6 L905.9,423.8 L906.2,424.8 L907.1,426.0 L905.6,427.3 L905.0,428.3 L904.5,430.3 L905.0,432.4 L906.4,434.1 L908.4,435.3 L910.8,435.7 L911.0,439.3 L908.2,440.3 L906.2,442.0 L905.1,444.2 L905.1,446.7 L905.5,447.8 L907.1,449.8 L909.1,451.1 L909.6,453.1 L911.0,454.9 L913.1,456.1 L914.6,456.4 L915.8,457.9 L916.7,458.6 L918.9,459.4 L921.2,459.4 L922.4,459.1 L924.3,457.9 L925.5,456.5 L925.6,458.0 L926.4,459.8 L928.1,461.2 L930.2,462.0 L932.5,462.0 L934.6,461.2 L936.2,459.8 L936.8,459.0 L937.2,457.2 L937.4,457.2 L937.9,459.4 L939.4,461.3 L941.7,462.6 L943.1,463.0 L945.8,463.0 L947.2,462.6 L949.5,461.3 L950.5,460.2 L952.5,460.8 L953.8,461.0 L956.4,460.5 L958.5,459.3 L959.4,458.4 L960.4,456.4 L962.3,456.0 L964.2,455.0 L965.4,453.3 L965.8,451.7 L967.3,451.1 L968.4,450.4 L969.2,449.5 L970.3,447.4 L970.3,445.1 L969.9,444.0 L969.2,442.9 L967.7,441.6 L969.4,440.9 L971.6,439.1 L972.7,436.7 L972.7,434.2 L971.6,431.8 L969.4,430.0 L966.7,429.1 L965.0,429.0 L964.9,427.2 L967.0,426.4 L967.9,425.8 L969.2,424.2 L969.6,422.2 L969.2,420.3 L967.9,418.6 L966.4,417.7 L966.3,416.0 L966.0,415.0 L964.7,413.3 L963.6,412.6 L963.1,411.1 L962.4,410.0 L960.2,408.1 L958.9,407.5 L955.9,407.0 L954.3,407.1 L952.9,407.5 L951.1,408.4 L950.2,407.3 L948.2,406.1 L947.0,405.8 L944.6,405.8 L943.4,406.1 L941.4,407.3 L940.0,409.0 L939.6,410.8 L936.4,410.8 L935.8,408.7 L934.2,406.6Z" fill="url(#bg16)"/><path d="M1021.0,467.0 L1018.7,465.6 L1016.0,465.2 L1013.3,465.6 L1012.1,466.2 L1010.8,467.3 L1008.3,465.9 L1006.6,465.5 L1004.9,465.3 L1003.1,465.5 L1001.4,465.9 L999.8,466.7 L998.5,467.7 L997.3,468.9 L996.5,470.2 L995.9,472.2 L994.1,472.3 L992.5,472.7 L991.1,473.4 L988.9,475.4 L988.2,476.6 L987.7,477.9 L987.6,479.3 L988.0,481.6 L986.0,482.9 L985.0,483.9 L983.9,486.3 L983.9,488.9 L984.3,490.1 L985.2,491.4 L984.0,492.6 L983.3,493.7 L982.7,496.2 L983.3,498.8 L984.9,500.9 L987.4,502.3 L990.2,502.8 L990.4,506.0 L988.4,506.5 L986.9,507.1 L985.6,508.1 L984.5,509.2 L983.8,510.5 L983.3,511.9 L983.1,513.4 L983.3,514.8 L983.8,516.2 L984.5,517.5 L985.6,518.7 L987.5,519.9 L988.0,522.1 L988.7,523.2 L990.7,524.9 L993.3,525.9 L994.7,526.0 L997.3,525.6 L997.3,528.0 L998.4,530.4 L999.4,531.4 L1001.9,532.9 L1004.8,533.4 L1006.3,533.3 L1008.2,532.7 L1010.0,534.2 L1011.4,534.9 L1012.8,535.3 L1015.9,535.3 L1018.7,534.2 L1019.9,533.4 L1021.6,531.2 L1022.1,528.8 L1024.7,528.8 L1025.3,531.2 L1026.0,532.5 L1027.1,533.6 L1029.7,535.1 L1031.3,535.5 L1034.5,535.5 L1036.1,535.1 L1037.5,534.5 L1039.3,533.0 L1042.0,533.4 L1045.0,532.9 L1047.6,531.4 L1049.3,529.2 L1051.7,529.1 L1053.4,528.6 L1055.0,527.9 L1056.4,526.9 L1057.5,525.7 L1058.4,524.3 L1058.9,522.8 L1059.1,521.2 L1058.9,519.6 L1058.4,518.1 L1060.1,517.0 L1061.7,514.8 L1062.3,512.3 L1062.2,511.0 L1061.0,508.5 L1060.1,507.5 L1057.6,506.1 L1055.7,505.7 L1055.7,504.2 L1057.2,504.1 L1059.8,503.2 L1061.8,501.4 L1062.8,499.1 L1062.8,496.7 L1062.4,495.5 L1060.9,493.5 L1059.7,492.6 L1061.9,490.7 L1062.8,489.3 L1063.3,487.7 L1063.5,486.2 L1063.3,484.6 L1062.8,483.1 L1061.9,481.7 L1060.8,480.4 L1059.4,479.4 L1057.2,478.5 L1056.8,476.9 L1056.1,475.8 L1054.2,474.2 L1052.5,473.5 L1052.0,472.0 L1050.3,469.7 L1047.6,468.1 L1046.1,467.7 L1042.9,467.7 L1040.0,468.8 L1037.9,470.5 L1037.4,468.4 L1036.6,467.1 L1035.5,465.9 L1034.2,464.9 L1032.6,464.2 L1029.3,463.6 L1026.0,464.2 L1024.5,464.9 L1023.1,465.9 L1021.7,467.7 L1021.0,467.0Z" fill="url(#bg17)"/><path d="M210.1,432.0 L207.5,431.1 L205.6,431.1 L203.1,432.0 L201.9,433.3 L200.2,432.9 L197.8,433.1 L196.1,433.9 L193.5,434.4 L192.1,435.3 L191.4,436.5 L191.3,437.1 L191.8,438.5 L190.2,439.1 L189.0,440.6 L189.0,441.6 L190.1,442.9 L188.6,444.1 L188.3,445.2 L188.6,446.3 L189.6,447.2 L191.1,447.8 L192.8,448.0 L192.9,448.7 L190.8,449.2 L190.0,449.6 L188.9,450.7 L188.4,452.0 L188.6,452.7 L189.4,453.9 L191.7,455.1 L192.1,456.5 L193.2,457.6 L194.0,458.0 L196.3,458.5 L197.0,459.0 L198.5,459.7 L200.4,459.9 L201.8,459.8 L204.0,460.8 L206.0,461.1 L208.9,460.5 L210.3,459.6 L210.9,458.8 L212.2,460.2 L214.8,461.1 L217.8,460.9 L219.4,460.2 L220.5,459.3 L222.7,459.9 L225.6,459.8 L227.9,458.6 L228.3,458.1 L228.7,456.9 L230.8,456.5 L232.0,455.8 L232.7,454.5 L233.7,453.9 L234.3,452.9 L234.3,451.8 L233.2,450.5 L235.6,449.3 L236.1,448.7 L236.5,447.5 L236.1,446.2 L235.6,445.6 L234.1,444.7 L232.3,444.2 L233.5,443.9 L234.8,443.0 L235.3,442.5 L235.7,441.3 L235.3,440.1 L234.8,439.5 L233.5,438.7 L231.9,438.2 L232.3,437.0 L231.9,435.9 L231.5,435.4 L229.4,434.3 L227.5,434.1 L226.8,433.4 L225.5,432.9 L223.1,432.7 L221.3,433.3 L220.2,432.2 L218.0,431.4 L216.2,431.4 L214.6,431.8 L213.4,432.6 L212.7,434.0 L211.5,434.0 L211.1,432.9 L210.1,432.0Z" fill="url(#bg18)"/></g>
<path d="M-10.0,199.8 0.0,196.6 10.0,193.5 20.0,190.4 30.0,187.4 40.0,184.4 50.0,181.5 60.0,178.6 70.0,175.8 80.0,173.0 90.0,170.3 100.0,167.7 110.0,165.1 120.0,162.5 130.0,160.0 140.0,157.6 150.0,155.2 160.0,152.9 170.0,150.6 180.0,148.4 190.0,146.2 200.0,144.1 210.0,142.0 220.0,140.0 230.0,138.0 240.0,136.1 250.0,134.3 260.0,132.5 270.0,130.8 280.0,129.1 290.0,127.5 300.0,125.9 310.0,124.4 320.0,122.9 330.0,121.5 340.0,120.1 350.0,118.8 360.0,117.6 370.0,116.4 380.0,115.3 390.0,114.2 400.0,113.2 410.0,112.2 420.0,111.3 430.0,110.4 440.0,109.6 450.0,108.8 460.0,108.1 470.0,107.5 480.0,106.9 490.0,106.3 500.0,105.8 510.0,105.4 520.0,105.0 530.0,104.7 540.0,104.4 550.0,104.2 560.0,104.0 570.0,103.9 580.0,103.8 590.0,103.8 600.0,103.8 610.0,103.9 620.0,104.0 630.0,104.2 640.0,104.5 650.0,104.8 660.0,105.1 670.0,105.5 680.0,106.0 690.0,106.5 700.0,107.0 710.0,107.6 720.0,108.3 730.0,109.0 740.0,109.8 750.0,110.6 760.0,111.5 770.0,112.4 780.0,113.4 790.0,114.4 800.0,115.5 810.0,116.7 820.0,117.9 830.0,119.1 840.0,120.4 850.0,121.8 860.0,123.2 870.0,124.7 880.0,126.2 890.0,127.8 900.0,129.4 910.0,131.1 920.0,132.8 930.0,134.6 940.0,136.4 950.0,138.3 960.0,140.3 970.0,142.3 980.0,144.3 990.0,146.4 1000.0,148.6 1010.0,150.8 1020.0,153.1 1030.0,155.4 1040.0,157.8 1050.0,160.3 1060.0,162.7 1070.0,165.3 1080.0,167.9 1090.0,170.6 L1090.0,424.3 1080.0,421.2 1070.0,418.2 1060.0,415.3 1050.0,412.4 1040.0,409.6 1030.0,406.8 1020.0,404.1 1010.0,401.5 1000.0,398.9 990.0,396.4 980.0,394.0 970.0,391.6 960.0,389.3 950.0,387.0 940.0,384.8 930.0,382.7 920.0,380.6 910.0,378.6 900.0,376.6 890.0,374.7 880.0,372.9 870.0,371.1 860.0,369.4 850.0,367.8 840.0,366.2 830.0,364.7 820.0,363.2 810.0,361.8 800.0,360.5 790.0,359.2 780.0,358.0 770.0,356.9 760.0,355.8 750.0,354.8 740.0,353.8 730.0,352.9 720.0,352.1 710.0,351.3 700.0,350.6 690.0,349.9 680.0,349.3 670.0,348.8 660.0,348.3 650.0,347.9 640.0,347.6 630.0,347.3 620.0,347.1 610.0,346.9 600.0,346.8 590.0,346.8 580.0,346.8 570.0,346.9 560.0,347.0 550.0,347.2 540.0,347.5 530.0,347.8 520.0,348.2 510.0,348.7 500.0,349.2 490.0,349.8 480.0,350.4 470.0,351.1 460.0,351.9 450.0,352.7 440.0,353.6 430.0,354.6 420.0,355.6 410.0,356.7 400.0,357.8 390.0,359.0 380.0,360.3 370.0,361.6 360.0,363.0 350.0,364.4 340.0,365.9 330.0,367.5 320.0,369.1 310.0,370.8 300.0,372.6 290.0,374.4 280.0,376.3 270.0,378.2 260.0,380.2 250.0,382.3 240.0,384.4 230.0,386.6 220.0,388.8 210.0,391.2 200.0,393.5 190.0,396.0 180.0,398.5 170.0,401.0 160.0,403.6 150.0,406.3 140.0,409.1 130.0,411.9 120.0,414.7 110.0,417.7 100.0,420.7 90.0,423.7 80.0,426.8 70.0,430.0 60.0,433.2 50.0,436.5 40.0,439.9 30.0,443.3 20.0,446.8 10.0,450.3 0.0,453.9 -10.0,457.6 Z" fill="#656565"/>
<path d="M-10.0,224.9 0.0,221.6 10.0,218.4 20.0,215.3 30.0,212.2 40.0,209.2 50.0,206.2 60.0,203.3 70.0,200.5 80.0,197.7 90.0,194.9 100.0,192.2 110.0,189.6 120.0,187.0 130.0,184.5 140.0,182.0 150.0,179.6 160.0,177.3 170.0,175.0 180.0,172.7 190.0,170.5 200.0,168.4 210.0,166.3 220.0,164.3 230.0,162.4 240.0,160.4 250.0,158.6 260.0,156.8 270.0,155.0 280.0,153.4 290.0,151.7 300.0,150.1 310.0,148.6 320.0,147.1 330.0,145.7 340.0,144.4 350.0,143.1 360.0,141.8 370.0,140.6 380.0,139.5 390.0,138.4 400.0,137.4 410.0,136.4 420.0,135.4 430.0,134.6 440.0,133.8 450.0,133.0 460.0,132.3 470.0,131.6 480.0,131.1 490.0,130.5 500.0,130.0 510.0,129.6 520.0,129.2 530.0,128.9 540.0,128.6 550.0,128.4 560.0,128.2 570.0,128.1 580.0,128.1 590.0,128.1 600.0,128.1 610.0,128.2 620.0,128.4 630.0,128.6 640.0,128.9 650.0,129.2 660.0,129.6 670.0,130.0 680.0,130.5 690.0,131.0 700.0,131.6 710.0,132.2 720.0,132.9 730.0,133.7 740.0,134.5 750.0,135.3 760.0,136.3 770.0,137.2 780.0,138.2 790.0,139.3 800.0,140.4 810.0,141.6 820.0,142.8 830.0,144.1 840.0,145.5 850.0,146.8 860.0,148.3 870.0,149.8 880.0,151.3 890.0,152.9 900.0,154.6 910.0,156.3 920.0,158.0 930.0,159.8 940.0,161.7 950.0,163.6 960.0,165.6 970.0,167.6 980.0,169.7 990.0,171.8 1000.0,174.0 1010.0,176.2 1020.0,178.5 1030.0,180.9 1040.0,183.2 1050.0,185.7 1060.0,188.2 1070.0,190.7 1080.0,193.3 1090.0,196.0" fill="none" stroke="#f2f2f2" stroke-width="4.2"/>
<path d="M-10.0,434.5 0.0,430.8 10.0,427.2 20.0,423.7 30.0,420.2 40.0,416.8 50.0,413.4 60.0,410.1 70.0,406.9 80.0,403.7 90.0,400.6 100.0,397.5 110.0,394.6 120.0,391.6 130.0,388.8 140.0,386.0 150.0,383.3 160.0,380.6 170.0,378.0 180.0,375.4 190.0,373.0 200.0,370.5 210.0,368.2 220.0,365.9 230.0,363.7 240.0,361.5 250.0,359.4 260.0,357.3 270.0,355.4 280.0,353.4 290.0,351.6 300.0,349.8 310.0,348.1 320.0,346.4 330.0,344.8 340.0,343.2 350.0,341.7 360.0,340.3 370.0,339.0 380.0,337.7 390.0,336.4 400.0,335.3 410.0,334.1 420.0,333.1 430.0,332.1 440.0,331.2 450.0,330.3 460.0,329.5 470.0,328.7 480.0,328.1 490.0,327.4 500.0,326.9 510.0,326.4 520.0,325.9 530.0,325.6 540.0,325.2 550.0,325.0 560.0,324.8 570.0,324.7 580.0,324.6 590.0,324.6 600.0,324.6 610.0,324.7 620.0,324.9 630.0,325.1 640.0,325.4 650.0,325.8 660.0,326.2 670.0,326.6 680.0,327.2 690.0,327.8 700.0,328.4 710.0,329.1 720.0,329.9 730.0,330.7 740.0,331.6 750.0,332.6 760.0,333.6 770.0,334.7 780.0,335.8 790.0,337.0 800.0,338.3 810.0,339.6 820.0,341.0 830.0,342.4 840.0,343.9 850.0,345.4 860.0,347.1 870.0,348.7 880.0,350.5 890.0,352.2 900.0,354.1 910.0,356.0 920.0,358.0 930.0,360.0 940.0,362.1 950.0,364.2 960.0,366.4 970.0,368.7 980.0,371.0 990.0,373.4 1000.0,375.9 1010.0,378.4 1020.0,380.9 1030.0,383.5 1040.0,386.2 1050.0,389.0 1060.0,391.8 1070.0,394.6 1080.0,397.5 1090.0,400.5" fill="none" stroke="#f2f2f2" stroke-width="4.2"/>
<!-- tire tracks -->
<path d="M-5,274.9 L128,237.6" stroke="#6f6f6f" stroke-width="16.5" filter="url(#sb)"/>
<path d="M-5,382.5 L150,334.5" stroke="#6f6f6f" stroke-width="16.8" filter="url(#sb)"/>
<!-- A-frame -->
<path d="M464.4,220 L577,180.7 L565.4,280.6 Z" fill="#d9d9d9"/>
<path d="M493,220.5 L575,192 L566,268 Z" fill="#656565"/>
<!-- trailer -->
<g transform="rotate(5.92 789.7 254.0)">
<rect x="569.85" y="175.05" width="439.7" height="157.9" fill="#d9d9d9" stroke="#000" stroke-width="2.3"/>
<rect x="581.0500000000001" y="188.15" width="417.0" height="130.8" fill="#eeeeee"/>
<path d="M572.0500000000001,330.95 L572.0500000000001,177.25 L1007.5500000000001,177.25" fill="none" stroke="#e4e4e4" stroke-width="1.6"/>
</g>
<g fill="none" stroke="#a0a0a0" stroke-width="1" stroke-dasharray="4,2.2">
<polygon points="820.4,185.3 870.7,188.9 868.7,209.6 818.9,206.1"/>
<polygon points="808.5,307.4 858,311.9 856,331.7 806.4,328.1"/>
<path d="M844,209 L833.7,310"/>
</g>

<!-- CG symbol -->
<circle cx="762.6" cy="255" r="22.5" fill="#fff" stroke="#000" stroke-width="3"/>
<path d="M762.6,255 L762.6,232.5 A22.5,22.5 0 0 1 785.1,255 Z" fill="#000"/>
<path d="M762.6,255 L762.6,277.5 A22.5,22.5 0 0 1 740.1,255 Z" fill="#000"/>
<!-- trailer rotate arrow -->
<path d="M867.5,238.6 A32.3,32.3 0 1 1 808.5,262" fill="none" stroke="#0d4f98" stroke-width="3.6"/>
<path d="M808.6,243.1 L800.8,261 L813.8,262.6 Z" fill="#0d4f98"/>
<!-- car -->
<polygon points="121.5,250.0 122.5,238.0 126.0,229.0 132.0,221.5 142.0,215.5 160.0,211.0 190.0,207.0 214.0,203.0 230.0,200.5 341.0,182.0 346.0,180.0 352.0,176.0 370.0,170.5 395.0,166.5 415.0,165.0 430.0,164.0 441.0,162.5 449.0,164.0 454.0,169.0 458.0,180.0 465.0,215.0 470.0,250.0 471.5,268.0 470.0,277.0 465.0,282.0 458.0,284.0 440.0,288.0 420.0,292.0 400.0,296.0 380.0,300.0 368.5,303.5 355.0,305.0 246.0,323.5 238.0,326.0 222.0,331.0 200.0,336.0 184.0,339.5 167.0,342.3 155.0,342.3 147.0,338.0 138.5,327.5 132.3,310.0 127.3,292.0 124.0,278.0 122.0,262.0" fill="#d4d4d8" stroke="#151515" stroke-width="2.9" stroke-linejoin="round"/><defs><linearGradient id="fg" x1="0" y1="0" x2="0" y2="1"><stop offset="0" stop-color="#4a4d55"/><stop offset="0.45" stop-color="#9c9ea5"/><stop offset="1" stop-color="#c6c7cc"/></linearGradient></defs><polygon points="133.0,223.0 141.5,217.5 160.0,213.0 190.0,209.0 212.0,205.5 200.0,212.5 186.0,218.0 160.0,220.5 139.0,225.5" fill="url(#fg)"/><polygon points="137.0,226.0 160.0,222.0 186.0,219.0 186.0,223.0 137.0,256.0" fill="#f6f6f6"/><polygon points="148.0,318.0 180.0,320.0 207.0,323.0 222.0,330.0 200.0,335.0 182.0,338.0 160.0,340.0" fill="#f6f6f6"/><polygon points="150.0,339.5 185.0,336.5 222.0,329.5 224.0,332.0 186.0,340.2 160.0,342.3 152.0,341.5" fill="#3a3d44"/><polygon points="122.5,245.0 124.5,236.0 128.5,229.0 133.0,231.0 131.5,252.0 132.0,275.0 135.5,300.0 143.0,322.0 137.0,326.0 131.0,314.0 126.0,296.0 122.5,275.0" fill="#363a42"/><path d="M127,256 Q127.5,285 134,312" stroke="#50545c" stroke-width="1.5" fill="none"/><polygon points="124.0,236.0 127.0,228.5 137.5,225.5 134.5,236.0 133.0,254.0 125.5,255.5 123.8,245.0" fill="#f4f4f4" stroke="#1a1a1a" stroke-width="1"/><path d="M137.5,225.5 L134.5,236 L133,254" stroke="#1a1a1a" stroke-width="2" fill="none"/><polygon points="133.0,314.0 140.0,322.0 150.0,331.0 158.0,337.0 153.0,340.5 145.0,336.0 138.0,328.0" fill="#f4f4f4" stroke="#222" stroke-width="0.8"/><path d="M150,263 L168,260.5 Q171,260 171.6,263 L177,293.5 Q177.4,296.4 174.5,296.8 L156.5,299.3 Q153.6,299.7 153.1,296.8 L147.3,266.5 Q146.9,263.4 150,263 Z" fill="#f2f2f2" stroke="#2a2a2a" stroke-width="1.1"/><path d="M186.7,217.5 L230,220.8 Q233,262 247.5,307 L207,323.5 Q191,292 184.3,252 Q183.7,230 186.7,217.5 Z" fill="#3b4048" stroke="#1b1b1b" stroke-width="1.2"/><polygon points="192.0,218.2 230.0,221.0 231.5,239.0 212.0,236.0 196.0,233.0" fill="#c9cace"/><polygon points="203.0,219.0 210.0,219.5 205.0,235.0 199.0,234.0" fill="#eeeeee"/><ellipse cx="220" cy="299" rx="5.5" ry="11" fill="#4b5058" transform="rotate(-15 220 299)"/><rect x="208" y="262" width="3" height="9" fill="#4b5058" transform="rotate(-10 209 266)"/><polygon points="230.0,222.5 340.5,205.5 356.0,285.0 245.0,305.0" fill="#e0e1e5"/><polygon points="212.0,203.0 338.5,183.5 340.5,187.5 212.0,207.5" fill="#d2d3d7"/><path d="M199,211 L212,207.5 L329.5,189.5 Q335.5,189 335.5,195 Q335.5,200.5 330,201.3 L212,216.5 L200,218 Z" fill="#3d424a"/><polygon points="213.0,207.8 329.5,190.0 331.0,193.0 214.0,210.5" fill="#4c525b"/><polygon points="268.5,199.0 279.0,197.3 280.4,212.0 269.5,213.6" fill="#2a2d33"/><polygon points="200.0,218.0 330.0,201.5 338.0,200.5 341.0,205.5 229.0,222.5 226.0,221.5" fill="#f3f3f3"/><path d="M228.5,222.3 L341,205.3" stroke="#2a2a2a" stroke-width="1"/><polygon points="206.0,326.0 245.0,306.0 251.0,308.5 212.0,329.0" fill="#f3f3f3"/><polygon points="245.0,306.0 360.0,285.0 361.5,289.0 243.0,310.0" fill="#f3f3f3"/><path d="M233,323 L241,312.5 L255,310 L346.5,292 Q352,291.3 352,296 Q351.7,301 347,301.8 L237,323.5 Z" fill="#3d424a"/><polygon points="286.7,304.0 300.0,301.5 300.3,313.0 287.0,315.5" fill="#2a2d33"/><polygon points="228.0,326.5 350.0,302.5 366.0,299.5 367.0,302.5 232.0,329.5" fill="#f3f3f3"/><path d="M245,305.6 L360.5,284.6" stroke="#2a2a2a" stroke-width="1"/><polygon points="340.5,184.0 347.0,182.0 368.5,297.0 361.0,300.0 356.0,285.0 341.0,205.0" fill="#f2f2f2" stroke="#555" stroke-width="0.7"/><polygon points="346.0,180.5 441.0,165.0 448.0,165.5 454.0,170.0 470.0,272.0 466.0,281.0 458.0,284.0 368.5,302.5" fill="#9a9a9a" stroke="#222" stroke-width="1"/><polygon points="346.5,182.0 442.0,166.5 443.5,171.5 349.0,187.0" fill="#cbcbcb"/><polygon points="349.0,187.0 443.5,171.5 460.0,277.0 368.5,293.0" fill="#8d8d8d" stroke="#333" stroke-width="1"/><polygon points="355.8,209.2 443.5,204.2 444.0,209.2 356.3,214.2" fill="#b9b9b9"/><line x1="356.3" y1="215.0" x2="444.0" y2="210.0" stroke="#7a7a7a" stroke-width="1.2"/><polygon points="357.5,219.0 444.9,214.0 445.4,219.0 358.0,224.0" fill="#b9b9b9"/><line x1="358.0" y1="224.85" x2="445.4" y2="219.85" stroke="#7a7a7a" stroke-width="1.2"/><polygon points="359.2,228.9 446.3,223.9 446.8,228.9 359.7,233.9" fill="#b9b9b9"/><line x1="359.7" y1="234.7" x2="446.8" y2="229.7" stroke="#7a7a7a" stroke-width="1.2"/><polygon points="360.9,238.8 447.7,233.8 448.2,238.8 361.4,243.8" fill="#b9b9b9"/><line x1="361.40000000000003" y1="244.55" x2="448.2" y2="239.55" stroke="#7a7a7a" stroke-width="1.2"/><polygon points="362.6,248.6 449.1,243.6 449.6,248.6 363.1,253.6" fill="#b9b9b9"/><line x1="363.1" y1="254.4" x2="449.6" y2="249.4" stroke="#7a7a7a" stroke-width="1.2"/><polygon points="364.3,258.4 450.5,253.4 451.0,258.4 364.8,263.4" fill="#b9b9b9"/><line x1="364.8" y1="264.25" x2="451.0" y2="259.25" stroke="#7a7a7a" stroke-width="1.2"/><polygon points="366.0,268.3 420.0,263.3 420.5,268.3 366.5,273.3" fill="#b9b9b9"/><line x1="366.5" y1="274.09999999999997" x2="420.5" y2="269.09999999999997" stroke="#7a7a7a" stroke-width="1.2"/><polygon points="419.0,185.0 440.0,182.0 440.5,186.0 419.5,189.0" fill="#b9b9b9"/><polygon points="435.0,268.5 455.0,265.5 455.5,269.5 435.5,272.5" fill="#b9b9b9"/><polygon points="346.0,181.0 352.0,176.0 370.0,170.5 395.0,166.5 415.0,165.0 430.0,164.0 441.0,163.0 441.5,166.5 346.5,182.0" fill="#303236"/><polygon points="368.5,302.0 462.0,282.5 458.0,284.0 440.0,288.0 420.0,292.0 400.0,296.0 380.0,300.0 368.5,303.5" fill="#24262a"/><path d="M356,190 Q356,184 362,183 L403,177 Q409,176.5 410,182 L410.5,191 Q410,194 406,194.5 L361,200.5 Q357,201 356.5,197 Z" fill="#5a5a5a"/><path d="M360,191 Q360,187 364,186.5 L401,181 Q405.5,180.5 406,184.5 L406.5,189.5 Q406,191.5 403,192 L363,197.5 Q360.5,197.8 360.3,195 Z" fill="#949494"/><path d="M366,191 L372,190.5 M378,189.8 L384,189 M390,187.8 L398,186.5" stroke="#d8d8d8" stroke-width="1.6" stroke-linecap="round"/><path d="M374,292 L374.5,283 Q375,273 384,271.5 L418,267 Q427,266 428,275 L429,289 Z" fill="#5e5e5e"/><path d="M379,290 L379.5,284 Q380,277 387,276 L416,272 Q423,271 423.5,278 L424,287 Z" fill="#949494"/><polygon points="368.5,293.0 460.0,277.0 464.0,282.0 368.5,302.0" fill="#a0a0a0"/><path d="M369,300 L463,282.5" stroke="#f0f0f0" stroke-width="1.3"/><polygon points="443.5,169.0 450.0,166.0 455.0,170.0 458.3,180.0 465.3,215.0 470.3,250.0 471.8,268.0 470.3,276.5 467.0,281.0 461.0,279.0" fill="#363a42"/><line x1="448.3" y1="185.0" x2="458.3" y2="184.5" stroke="#2c2f35" stroke-width="0.9"/><line x1="449.9" y1="195.5" x2="459.9" y2="195.0" stroke="#2c2f35" stroke-width="0.9"/><line x1="451.5" y1="206.0" x2="461.5" y2="205.5" stroke="#2c2f35" stroke-width="0.9"/><line x1="453.1" y1="216.5" x2="463.1" y2="216.0" stroke="#2c2f35" stroke-width="0.9"/><line x1="454.7" y1="227.0" x2="464.7" y2="226.5" stroke="#2c2f35" stroke-width="0.9"/><line x1="456.3" y1="237.5" x2="466.3" y2="237.0" stroke="#2c2f35" stroke-width="0.9"/><line x1="457.9" y1="248.0" x2="467.9" y2="247.5" stroke="#2c2f35" stroke-width="0.9"/><line x1="459.5" y1="258.5" x2="469.5" y2="258.0" stroke="#2c2f35" stroke-width="0.9"/><line x1="461.0" y1="269.0" x2="471.0" y2="268.5" stroke="#2c2f35" stroke-width="0.9"/><polygon points="442.0,165.0 448.5,164.0 453.5,168.5 456.0,176.0 447.0,172.0" fill="#c8202a"/><polygon points="465.0,272.0 471.0,270.0 470.0,278.0 466.0,281.5 462.0,281.0" fill="#c8202a"/><polygon points="200.8,210.0 203.3,195.0 207.0,191.8 211.0,191.0 213.5,194.0 212.5,206.7 208.3,211.7" fill="#363a42" stroke="#111" stroke-width="1"/><polygon points="203.0,205.0 204.5,196.0 207.5,193.5 206.5,204.0" fill="#e8e8e8"/><polygon points="223.3,323.3 231.7,321.7 240.0,341.7 236.0,344.0 233.3,343.3" fill="#363a42" stroke="#111" stroke-width="1"/><polygon points="230.5,334.0 234.0,334.0 236.5,341.0 233.5,341.0" fill="#e8e8e8"/><path d="M290.3,227.8 A25.8,25.8 0 1 0 286.5,278.9" fill="none" stroke="#0d4f98" stroke-width="3.6"/><polygon points="285.4,275.4 304.9,273.3 291.7,286.5" fill="#0d4f98"/><path d="M332,245.5 L347,243.5" stroke="#222" stroke-width="1.3"/><rect x="331" y="242.5" width="6" height="5" rx="2" fill="#222" transform="rotate(-8 334 245)"/>
<g opacity="0.999"><circle cx="76.3" cy="65.35" r="46.2" fill="#fff" stroke="#111" stroke-width="1.7"/><circle cx="76.3" cy="65.35" r="43.2" fill="none" stroke="#a09cb0" stroke-width="0.9"/><defs><path id="arcP" d="M45.76,54.23 A32.5,32.5 0 0 1 104.45,49.10"/></defs><text font-family="Liberation Sans" font-weight="bold" font-size="12.3" letter-spacing="1.2" fill="#111" stroke="#111" stroke-width="0.35"><textPath href="#arcP" startOffset="46.5%" text-anchor="middle">PROJECT</textPath></text><path d="M39.5,77 L113.5,63.2" stroke="#111" stroke-width="3.2" stroke-linecap="round"/><polygon points="75,70.5 69.3,80.6 82.6,80.6" fill="#111"/><polygon points="74,74.5 71.6,79.3 73.8,79.3" fill="#fff"/><path d="M52,81 L100.5,81" stroke="#222" stroke-width="1.2"/><path d="M37,66 L46.5,66 M41.75,61.5 L41.75,70.5" stroke="#111" stroke-width="1.9"/><path d="M106.3,55.3 L114.7,55.3" stroke="#111" stroke-width="2.2"/><text x="0" y="0" font-family="Liberation Sans" font-weight="bold" font-size="19.6" fill="#111" stroke="#111" stroke-width="0.3" transform="translate(49.6,97.6) scale(1.17,1)">GVM</text><g transform="translate(52.8,67.3) rotate(-10.5) scale(0.92,1.13)"><path d="M0,-1.5 L0,-14 Q0,-16.6 3,-16.8 L34,-14.8 L39.5,-11.2 L50,-9.2 Q52.6,-8.4 52.6,-5.5 L52.6,-1.2 L47.6,-0.6 A5.3,5.3 0 0 0 37.2,-0.4 L17.4,-0.2 A5.3,5.3 0 0 0 7.2,0 Z" fill="#fff" stroke="#2a2a2a" stroke-width="0.9" stroke-linejoin="round"/><path d="M2.5,-14.3 L32.8,-12.8 L37.2,-10 L2.5,-9.6 Z" fill="#f4f4f4" stroke="#444" stroke-width="0.7"/><path d="M10.5,-14 L10.5,-9.7 M19.5,-13.5 L19.5,-9.8 M28,-13.1 L28.5,-9.9 M19.5,-9.8 L19.8,-1 M37,-9.9 L37.5,-4 M0.5,-8 L52,-5.5" stroke="#555" stroke-width="0.6" fill="none"/><path d="M4.5,-17.8 L28,-19.6 M7,-17.9 L7,-16.9 M15,-18.5 L15,-16.4 M24,-19.3 L24,-15.8 M27.5,-19.6 L31,-17" stroke="#333" stroke-width="0.8" fill="none"/><path d="M44,-7 L52,-6.5 M49,-9 L51.5,-4 M1,-6 L6,-6 L6,-2" stroke="#777" stroke-width="0.5" fill="none"/><circle cx="12.3" cy="0.3" r="3.7" fill="#fff" stroke="#111" stroke-width="1.5"/><circle cx="12.3" cy="0.3" r="1.2" fill="#444"/><circle cx="42.4" cy="0.4" r="3.7" fill="#fff" stroke="#111" stroke-width="1.5"/><circle cx="42.4" cy="0.4" r="1.2" fill="#444"/></g></g>
<!-- small arrow -->
<polygon points="489.4,199.2 478.8,207.0 483.6,207.6 480.0,240.2 490.2,240.7 492.9,208.1 496.2,206.8" fill="#1459a8" stroke="#f4f8ff" stroke-width="1.2" stroke-linejoin="miter"/>
<path d="M577,180.7 L464.4,220 L565.4,280.6" fill="none" stroke="#000" stroke-width="1.8"/>
<!-- big arrow -->
<polygon points="781.4,107.8 755.4,144.6 765.6,146.2 760.6,201.8 782.6,203.6 788.8,148.8 799.0,149.8" fill="#0f5099" stroke="#eef4ff" stroke-width="1.3"/>
</svg>
<svg width="1080" height="540" viewBox="0 0 1080 540">
<g filter="url(#sh)">
<text class="t" x="685.3" y="65.8">1. CENTRIFUGAL</text>
<text class="t" x="638.3" y="91.5">FORCE FROM TURNING</text>
<text class="t" x="457.4" y="150.2">3. TOWBALL</text>
<text class="t" x="457.4" y="175.6">FORCE</text>
<text class="t" x="742.8" y="395.7">2. PIVOT ON AXLES</text>
<text class="t" x="171.3" y="419.8">4. VEHICLE RESPONDS AS</text>
<text class="t" x="171.3" y="444.7">EXPECTED WITH TURNING</text>
</g>
</svg>
</div></body></html>
